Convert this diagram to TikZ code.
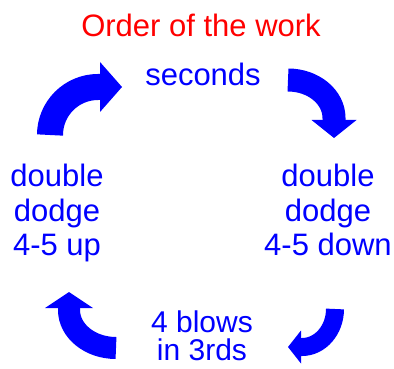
\documentclass[tikz,border=0pt]{standalone}
\usepackage{fontspec}
\setmainfont{Liberation Sans}
\usetikzlibrary{arrows.meta}

\begin{document}
\begin{tikzpicture}[x=1pt,y=1pt,
  lbl/.style={text=blue,align=center,inner sep=0pt,font=\fontsize{31}{34.5}\selectfont},
  turn/.style={draw=blue,line width=#1}]
\useasboundingbox (0,0) rectangle (394,-369);
% texts
\node[lbl,text=red,anchor=base] (title) at (201,-37) {Order of the work};
\node[lbl,anchor=base] (sec) at (203,-85) {seconds};
\node[lbl,anchor=north] (ddown) at (328,-164) {double\\dodge\\4-5 down};
\node[lbl,anchor=north,font=\fontsize{30}{28}\selectfont] (blows) at (202,-311) {4 blows\\in 3rds};
\node[lbl,anchor=north] (dup) at (57,-164) {double\\dodge\\4-5 up};
% arrow ends
\coordinate (a1s) at (50,-135);  \coordinate (a1e) at (122,-87);
\coordinate (a2s) at (288,-80);  \coordinate (a2e) at (334,-138);
\coordinate (a3s) at (335,-309); \coordinate (a3e) at (288,-347);
\coordinate (a4s) at (116,-348); \coordinate (a4e) at (69,-292);
% arrows
\draw[turn=26pt,-{Triangle[width=50pt,length=22pt,line width=0pt]}]
  (a1s) arc[start angle=180,end angle=90,radius=48] -- (a1e);
\draw[turn=23pt,-{Triangle[width=45pt,length=18pt,line width=0pt]}]
  (a2s) arc[start angle=90,end angle=0,x radius=46,y radius=38] -- (a2e);
\draw[turn=18pt,-{Triangle[width=33pt,length=13pt,line width=0pt]}]
  (a3s) arc[start angle=0,end angle=-90,x radius=33,y radius=38] -- (a3e);
\draw[turn=22pt,-{Triangle[width=48pt,length=16pt,line width=0pt]}]
  (a4s) arc[start angle=270,end angle=180,x radius=47,y radius=38] -- (a4e);
\end{tikzpicture}
\end{document}
